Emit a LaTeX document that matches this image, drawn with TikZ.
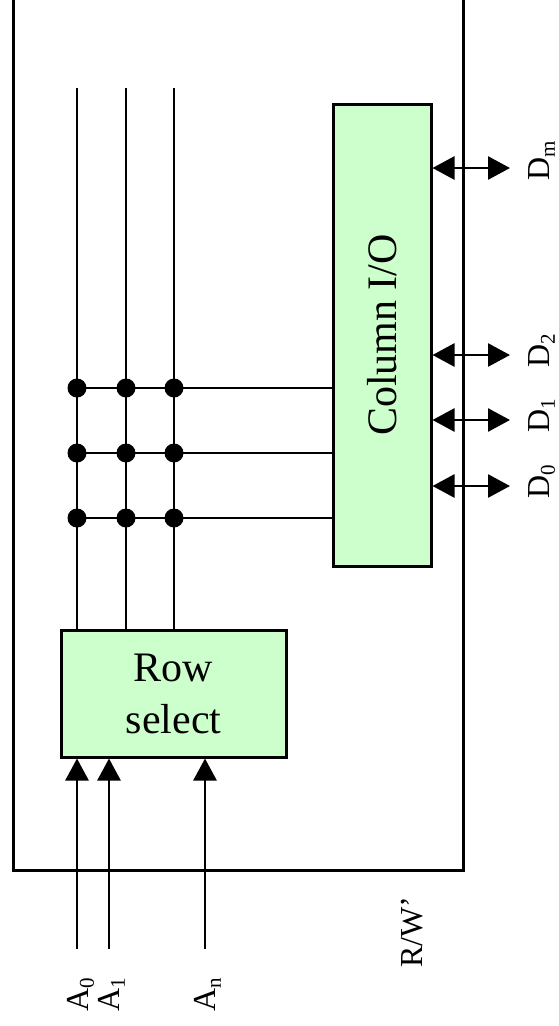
\documentclass[tikz,border=0pt]{standalone}
\usepackage{fontspec}
\setmainfont{Liberation Serif}
\usetikzlibrary{arrows.meta}
\definecolor{boxgreen}{HTML}{CCFFCC}
% subscript index for the pin names
\newcommand{\lowidx}[1]{\raisebox{-0.18em}{\fontsize{21}{21}\selectfont #1}}
\begin{document}
\begin{tikzpicture}[x=1pt,y=-1pt,
  wire/.style={line width=2.7pt},
  blk/.style={draw, line width=3pt, fill=boxgreen, inner sep=0pt, align=center,
              font=\fontsize{42}{52}\selectfont},
  intip/.style={-{Triangle[length=22pt,width=23pt]}},
  biotip/.style={{Triangle[length=22pt,width=23pt]}-{Triangle[length=22pt,width=23pt]}},
  junction/.style={circle, fill=black, inner sep=0pt, minimum size=19pt},
  lbl/.style={rotate=90, anchor=base west, inner sep=0pt,
              font=\fontsize{32}{38}\selectfont}]
\useasboundingbox (0,0) rectangle (558,1026);

% memory chip outline (open past the top edge)
\begin{scope}
  \clip (0,0) rectangle (558,1026);
  \draw[line width=3pt] (13,-10) -- (13,870) -- (463,870) -- (463,-10);
\end{scope}

% blocks
\node[blk, minimum width=225pt, minimum height=127pt] (rowsel) at (173.5,693.5) {Row\\select};
\node[blk, minimum width=98pt, minimum height=462pt] (colio) at (382,335) {};
\node[rotate=90, font=\fontsize{42}{52}\selectfont, inner sep=0pt] (coltxt) at (colio.center) {Column I/O};

% word lines
\coordinate (t1) at (77,88);
\coordinate (t2) at (126,88);
\coordinate (t3) at (174,88);
\foreach \c in {t1,t2,t3}
  \draw[wire] (\c) -- (\c |- rowsel.north);

% bit lines with junctions
\foreach \r/\y in {a/388,b/453,c/518}{
  \node[junction] (\r1) at (77,\y) {};
  \node[junction] (\r2) at (126,\y) {};
  \node[junction] (\r3) at (174,\y) {};
  \draw[wire] (\r1.center) -- (\r1 -| colio.west);
}

% address inputs
\coordinate (ia0) at (77,949);
\coordinate (ia1) at (109,949);
\coordinate (ian) at (205,949);
\foreach \c in {ia0,ia1,ian}
  \draw[wire, intip] (\c) -- (\c |- rowsel.south);

% data lines
\coordinate (e0) at (510,486);
\coordinate (e1) at (510,420);
\coordinate (e2) at (510,355);
\coordinate (em) at (510,168);
\foreach \c in {e0,e1,e2,em}
  \draw[wire, biotip] (colio.east |- \c) -- (\c);

% labels
\node[lbl] (la0) at (88,1012) {A\lowidx{0}};
\node[lbl] (la1) at (119,1012) {A\lowidx{1}};
\node[lbl] (lan) at (215,1012) {A\lowidx{n}};
\node[lbl] (lrw) at (422,968) {R/W’};
\node[lbl] (ld0) at (549,499) {D\lowidx{0}};
\node[lbl] (ld1) at (549,433) {D\lowidx{1}};
\node[lbl] (ld2) at (549,368) {D\lowidx{2}};
\node[lbl] (ldm) at (549,181) {D\lowidx{m}};
\end{tikzpicture}
\end{document}
